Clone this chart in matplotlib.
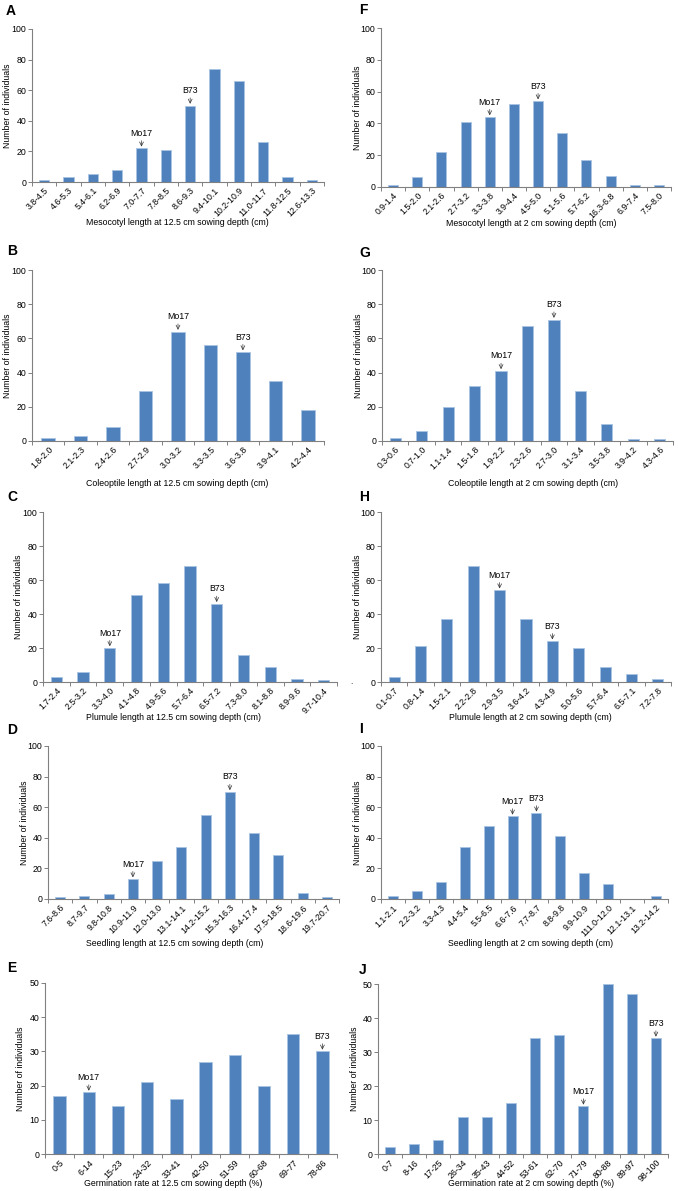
import matplotlib
matplotlib.use('Agg')
import matplotlib.pyplot as plt
from matplotlib.ticker import FixedLocator

plt.rcParams['font.family'] = ['Liberation Sans', 'DejaVu Sans']

# Данные: интервалы (подписи оси X) и число особей в каждом интервале
cats_a = ['3.8-4.5', '4.6-5.3', '5.4-6.1', '6.2-6.9', '7.0-7.7', '7.8-8.5',
          '8.6-9.3', '9.4-10.1', '10.2-10.9', '11.0-11.7', '11.8-12.5', '12.6-13.3']
vals_a = [1, 3, 5, 8, 22, 21, 50, 74, 66, 26, 3, 1]

cats_b = ['1.8-2.0', '2.1-2.3', '2.4-2.6', '2.7-2.9', '3.0-3.2', '3.3-3.5',
          '3.6-3.8', '3.9-4.1', '4.2-4.4']
vals_b = [2, 3, 8, 29, 64, 56, 52, 35, 18]

cats_c = ['1.7-2.4', '2.5-3.2', '3.3-4.0', '4.1-4.8', '4.9-5.6', '5.7-6.4',
          '6.5-7.2', '7.3-8.0', '8.1-8.8', '8.9-9.6', '9.7-10.4']
vals_c = [3, 6, 20, 51, 58, 68, 46, 16, 9, 2, 1]

cats_d = ['7.6-8.6', '8.7-9.7', '9.8-10.8', '10.9-11.9', '12.0-13.0', '13.1-14.1',
          '14.2-15.2', '15.3-16.3', '16.4-17.4', '17.5-18.5', '18.6-19.6', '19.7-20.7']
vals_d = [1, 2, 3, 13, 25, 34, 55, 70, 43, 29, 4, 1]

cats_e = ['0-5', '6-14', '15-23', '24-32', '33-41', '42-50', '51-59', '60-68',
          '69-77', '78-86']
vals_e = [17, 18, 14, 21, 16, 27, 29, 20, 35, 30]

cats_f = ['0.9-1.4', '1.5-2.0', '2.1-2.6', '2.7-3.2', '3.3-3.8', '3.9-4.4',
          '4.5-5.0', '5.1-5.6', '5.7-6.2', '16.3-6.8', '6.9-7.4', '7.5-8.0']
vals_f = [1, 6, 22, 41, 44, 52, 54, 34, 17, 7, 1, 1]

cats_g = ['0.3-0.6', '0.7-1.0', '1.1-1.4', '1.5-1.8', '1.9-2.2', '2.3-2.6',
          '2.7-3.0', '3.1-3.4', '3.5-3.8', '3.9-4.2', '4.3-4.6']
vals_g = [2, 6, 20, 32, 41, 67, 71, 29, 10, 1, 1]

cats_h = ['0.1-0.7', '0.8-1.4', '1.5-2.1', '2.2-2.8', '2.9-3.5', '3.6-4.2',
          '4.3-4.9', '5.0-5.6', '5.7-6.4', '6.5-7.1', '7.2-7.8']
vals_h = [3, 21, 37, 68, 54, 37, 24, 20, 9, 5, 2]

cats_i = ['1.1-2.1', '2.2-3.2', '3.3-4.3', '4.4-5.4', '5.5-6.5', '6.6-7.6',
          '7.7-8.7', '8.8-9.8', '9.9-10.9', '111.0-12.0', '12.1-13.1', '13.2-14.2']
vals_i = [2, 5, 11, 34, 48, 54, 56, 41, 17, 10, 0, 2]

cats_j = ['0-7', '8-16', '17-25', '26-34', '35-43', '44-52', '53-61', '62-70',
          '71-79', '80-88', '89-97', '98-100']
vals_j = [2, 3, 4, 11, 11, 15, 34, 35, 14, 50, 47, 34]

xlabels = {
    'A': 'Mesocotyl length at 12.5 cm sowing depth (cm)',
    'B': 'Coleoptile length at 12.5 cm sowing depth (cm)',
    'C': 'Plumule length at 12.5 cm sowing depth (cm)',
    'D': 'Seedling length at 12.5 cm sowing depth (cm)',
    'E': 'Germination rate at 12.5 cm sowing depth (%)',
    'F': 'Mesocotyl length at 2 cm sowing depth (cm)',
    'G': 'Coleoptile length at 2 cm sowing depth (cm)',
    'H': 'Plumule length at 2 cm sowing depth (cm)',
    'I': 'Seedling length at 2 cm sowing depth (cm)',
    'J': 'Germination rate at 2 cm sowing depth (%)',
}

# Положение родительских линий (индекс интервала)
mo17 = {'A': 4, 'B': 4, 'C': 2, 'D': 3, 'E': 1, 'F': 4, 'G': 4, 'H': 4, 'I': 5, 'J': 8}
b73 = {'A': 6, 'B': 6, 'C': 6, 'D': 7, 'E': 9, 'F': 6, 'G': 6, 'H': 6, 'I': 6, 'J': 11}

W, H = 678, 1191

# Панели: буква -> (данные, рамка осей в пикселях: left, top, right, bottom,
# позиция буквы, позиция подписи оси X)
panels = {
    'A': (cats_a, vals_a, (32, 29, 324, 182), (6, 11), (177, 222)),
    'B': (cats_b, vals_b, (32, 270, 324, 441), (7, 251), (177, 483)),
    'C': (cats_c, vals_c, (43, 512, 337, 682), (7, 497), (173, 718)),
    'D': (cats_d, vals_d, (48, 746, 339, 899), (7, 730), (175, 944)),
    'E': (cats_e, vals_e, (45, 983, 337, 1154), (7, 968), (173, 1183)),
    'F': (cats_f, vals_f, (381, 28, 671, 187), (359, 10), (531, 223)),
    'G': (cats_g, vals_g, (382, 270, 673, 441), (359, 253), (533, 483)),
    'H': (cats_h, vals_h, (381, 512, 671, 682), (359, 497), (530, 718)),
    'I': (cats_i, vals_i, (381, 746, 668, 899), (359, 729), (531, 944)),
    'J': (cats_j, vals_j, (378, 984, 668, 1154), (359, 970), (531, 1183)),
}

fs = 6.3
axis_color = '#808080'
bar_color = '#4F81BD'

fig = plt.figure(figsize=(W / 100, H / 100), dpi=100)

for letter, (cats, vals, box, lpos, xlpos) in panels.items():
    l, t, r, b = box
    ax = fig.add_axes([l / W, 1 - b / H, (r - l) / W, (b - t) / H])
    n = len(cats)
    x = list(range(n))
    ax.bar(x, vals, width=0.42, color=bar_color, edgecolor='#A9C4E4', linewidth=0.6)

    ymax = 50 if letter in ('E', 'J') else 100
    ax.set_ylim(0, ymax)
    ax.set_xlim(-0.5, n - 0.5)
    ax.set_yticks(range(0, ymax + 1, ymax // 5))

    ax.set_xticks(x)
    ax.set_xticklabels(cats, rotation=45, ha='right', rotation_mode='anchor', fontsize=fs)
    ax.xaxis.set_minor_locator(FixedLocator([i - 0.5 for i in range(n + 1)]))
    ax.tick_params(axis='x', which='major', length=0, pad=3)
    ax.tick_params(axis='x', which='minor', length=3, width=0.7, color=axis_color)
    ax.tick_params(axis='y', length=3, width=0.7, color=axis_color, pad=1, labelsize=fs)

    for side in ('top', 'right'):
        ax.spines[side].set_visible(False)
    for side in ('left', 'bottom'):
        ax.spines[side].set_color(axis_color)
        ax.spines[side].set_linewidth(0.8)

    ax.set_ylabel('Number of individuals', fontsize=fs)
    ax.yaxis.set_label_coords(-0.067, 0.5)

    for name, idx in (('Mo17', mo17[letter]), ('B73', b73[letter])):
        ax.annotate(name, xy=(idx, vals[idx]), xytext=(0, 7.5), textcoords='offset points',
                    ha='center', va='bottom', fontsize=fs,
                    arrowprops=dict(arrowstyle='->,head_length=0.45,head_width=0.22',
                                    lw=0.5, color='#333333', shrinkA=0, shrinkB=1.2))

    fig.text(lpos[0] / W, 1 - lpos[1] / H, letter, fontsize=10, fontweight='bold',
             ha='left', va='center')
    fig.text(xlpos[0] / W, 1 - xlpos[1] / H, xlabels[letter], fontsize=fs,
             ha='center', va='center')

# мелкая точка слева от панели H, как в оригинале
fig.text(351 / W, 1 - 682 / H, '.', fontsize=6, ha='center', va='center')

fig.savefig('out.png', dpi=100)
